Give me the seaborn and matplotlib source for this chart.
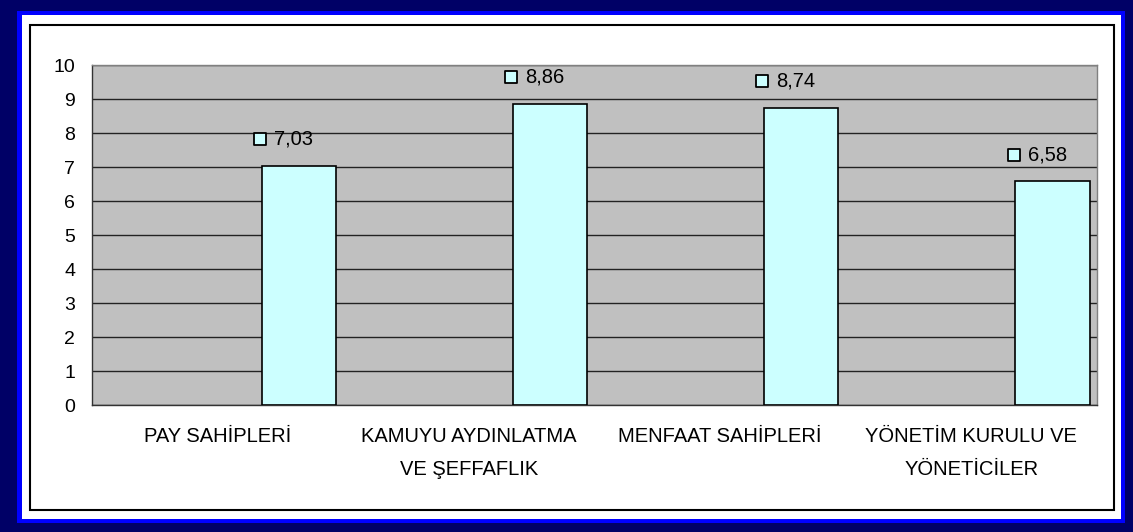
import matplotlib
matplotlib.use("Agg")
import matplotlib.pyplot as plt
import seaborn as sns
import pandas as pd
from matplotlib.patches import Rectangle

# Data
categories = ["PAY SAHİPLERİ", "KAMUYU AYDINLATMA\nVE ŞEFFAFLIK",
              "MENFAAT SAHİPLERİ", "YÖNETİM KURULU VE\nYÖNETİCİLER"]
scores = [7.03, 8.86, 8.74, 6.58]
score_labels = ["7,03", "8,86", "8,74", "6,58"]
yticks = list(range(0, 11))

df = pd.DataFrame({"kategori": categories, "puan": scores})

sns.set_style("white")
plt.rcParams["font.family"] = ["Liberation Sans", "DejaVu Sans"]
plt.rcParams["text.color"] = "black"
plt.rcParams["xtick.color"] = "black"
plt.rcParams["ytick.color"] = "black"

W, H = 1133, 532
fig = plt.figure(figsize=(W / 100, H / 100), dpi=100)
fig.patch.set_facecolor("white")

# frame: navy / blue / white / black line
def frame(x0, y0, x1, y1, **kw):
    fig.add_artist(Rectangle((x0 / W, 1 - y1 / H), (x1 - x0) / W, (y1 - y0) / H,
                             transform=fig.transFigure, **kw))

frame(0, 0, W, H, facecolor="#000066", edgecolor="none", zorder=0)
frame(17, 11, 1125, 523, facecolor="#0000FF", edgecolor="none", zorder=0)
frame(22, 15, 1121, 519, facecolor="white", edgecolor="none", zorder=0)
frame(30, 25, 1114, 510, facecolor="none", edgecolor="black", linewidth=1.5, zorder=1)

ax = fig.add_axes([92 / W, 1 - 405 / H, (1097 - 92) / W, (405 - 65) / H])
ax.set_facecolor("#C0C0C0")

bar_w = 0.295
shift = 0.323
sns.barplot(data=df, x="kategori", y="puan", color="#CCFFFF", width=bar_w,
            edgecolor="black", linewidth=1.2, saturation=1, ax=ax, zorder=3)
for p in ax.patches:
    p.set_x(p.get_x() + shift)

# data labels with legend key square
for i, (v, lab) in enumerate(zip(scores, score_labels)):
    xm = i + shift - 0.155
    ax.scatter([xm], [v + 0.78], marker="s", s=70, facecolor="#CCFFFF",
               edgecolor="black", linewidth=1.3, zorder=5, clip_on=False)
    ax.text(xm + 0.056, v + 0.78, lab, ha="left", va="center", fontsize=14.5,
            color="black", zorder=5)

ax.set_xlim(-0.5, len(categories) - 0.5)
ax.set_ylim(0, 10)
ax.set_yticks(yticks)
ax.yaxis.grid(True, color="#222222", linewidth=1)
ax.set_axisbelow(True)

ax.set_xticks([i - 0.5 for i in range(len(categories) + 1)])
ax.set_xticklabels([])
ax.set_xticks(range(len(categories)), minor=True)
ax.set_xticklabels(categories, minor=True, fontsize=14.5, linespacing=1.9, va="top")
ax.tick_params(axis="x", which="minor", length=0, pad=16)
ax.tick_params(axis="x", which="major", length=6, width=1, color="#333333", direction="out")
ax.tick_params(axis="y", length=6, width=1, color="#333333", direction="out",
               labelsize=14, pad=6)
ax.set_xlabel("")
ax.set_ylabel("")

for side in ["left", "bottom"]:
    ax.spines[side].set_color("#333333")
    ax.spines[side].set_linewidth(1)
for side in ["top", "right"]:
    ax.spines[side].set_color("#808080")
    ax.spines[side].set_linewidth(1)

fig.savefig("out.png", dpi=100)
